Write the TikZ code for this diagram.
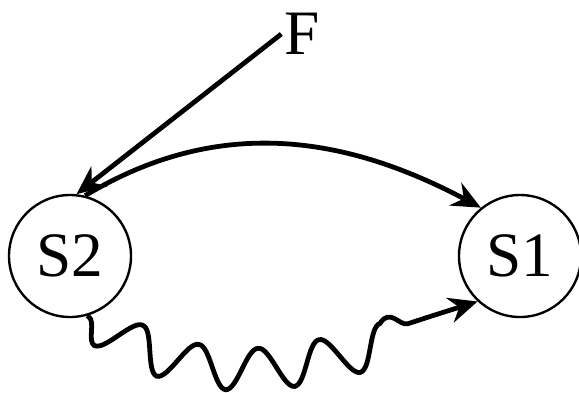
\documentclass[tikz,border=0pt]{standalone}
\usepackage{fontspec}
\setmainfont{Liberation Serif}
\usepackage{tikz}
\usetikzlibrary{arrows.meta,decorations.pathmorphing,positioning}

\begin{document}
\begin{tikzpicture}[
    every node/.style={font=\fontsize{45}{48}\selectfont},
    state/.style={
        circle, draw, line width=1.7pt,
        minimum size=3.05cm, inner sep=0pt
    },
    link/.style={
        line width=3.4pt,
        -{Stealth[length=0.72cm, width=0.64cm, inset=0.24cm]}
    },
    wavy/.style={
        link, decorate,
        decoration={snake, segment length=1.62cm, amplitude=0.52cm,
                    mirror, pre length=0.05cm, post length=1.2cm}
    }
]
% --- frame (579 x 392 px, 0.025cm per px)
\useasboundingbox (0,0) rectangle (14.475,-9.8);

% States
\node[state] (s2) at (1.75,-6.4) {S2};
\node[state] (s1) at (13.0,-6.4) {S1};

% Input
\node[inner sep=2pt] (f) at (7.55,-0.85) {F};

% Connectors
\draw[link] (f.west) -- (s2.84);
\draw[link] (s2.76) to[out=31, in=152] (s1.129);
\draw[wavy] (s2.-74) to[out=-34, in=197] (s1.-133);
\end{tikzpicture}
\end{document}
